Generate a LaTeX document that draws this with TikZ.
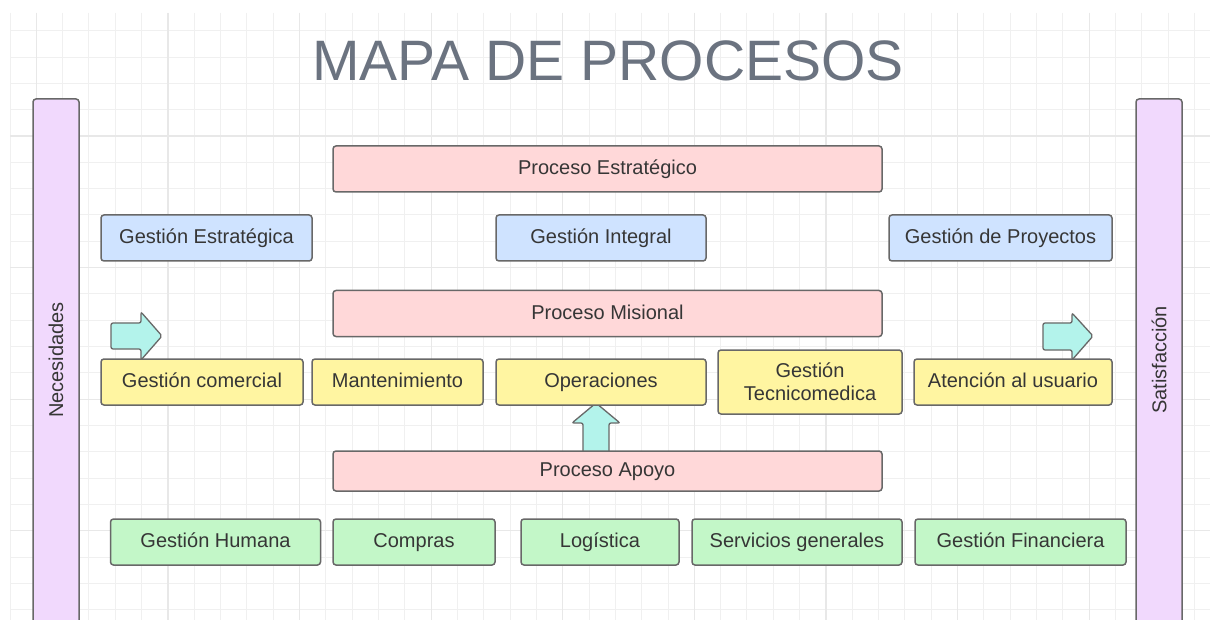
\documentclass[tikz,border=0pt]{standalone}
\usepackage{fontspec}
\setmainfont{Liberation Sans}
\definecolor{borde}{HTML}{686868}
\definecolor{texto}{HTML}{363636}
\definecolor{titulo}{HTML}{6B7380}
\definecolor{rosa}{HTML}{FFD8D9}
\definecolor{azul}{HTML}{CFE3FF}
\definecolor{amarillo}{HTML}{FFF5A1}
\definecolor{verde}{HTML}{C3F7C8}
\definecolor{lila}{HTML}{F1D9FD}
\definecolor{turquesa}{HTML}{B3F3EB}
\definecolor{rejillafina}{HTML}{F0F0F0}
\definecolor{rejillagruesa}{HTML}{E8E8E8}

\begin{document}
\begin{tikzpicture}[x=1pt,y=-1pt,
		caja/.style={draw=borde, line width=1.5pt, rounded corners=3pt, text=texto,
			font=\fontsize{20}{23}\selectfont, align=center, inner sep=0pt, minimum height=46,
			text height=16, text depth=4.5},
		proceso/.style={caja, fill=rosa, minimum width=549},
		estrategia/.style={caja, fill=azul},
		mision/.style={caja, fill=amarillo},
		apoyo/.style={caja, fill=verde},
		barra/.style={draw=borde, line width=1.5pt, rounded corners=3pt, fill=lila,
			minimum width=46, minimum height=531, inner sep=0pt},
		flecha/.style={draw=borde, line width=1.3pt, rounded corners=2pt, fill=turquesa}]
		\useasboundingbox (0,0) rectangle (1210,620);
		\fill[white] (0,0) rectangle (1210,620);
		% cuadricula
		\foreach \i in {0,...,45}
		\draw[rejillafina, line width=1pt] ({10+26.32*\i},13) -- ({10+26.32*\i},620);
		\foreach \j in {0,...,22}
		\draw[rejillafina, line width=1pt] (10,{30.7+26.32*\j}) -- (1210,{30.7+26.32*\j});
		\foreach \i in {1,6,...,41}
		\draw[rejillagruesa, line width=1.2pt] ({10+26.32*\i},13) -- ({10+26.32*\i},620);
		\foreach \j in {4,9,...,19}
		\draw[rejillagruesa, line width=1.2pt] (10,{30.7+26.32*\j}) -- (1210,{30.7+26.32*\j});

		\node (titulo) [text=titulo, font=\fontsize{57}{60}\selectfont, anchor=base] at (608,81) {MAPA DE PROCESOS};

		% barras laterales
		\node (necesidades) [barra] at (56,364.5) {};
		\node [rotate=90, text=texto, font=\fontsize{20}{23}\selectfont] at (necesidades.center|-0,360) {Necesidades};
		\node (satisfaccion) [barra] at (1159,364.5) {};
		\node [rotate=90, text=texto, font=\fontsize{20}{23}\selectfont] at (satisfaccion.center|-0,360) {Satisfacción};

		% flechas
		\draw[flecha] (111,323) -- (141,323) -- (141,312) -- (162,336) -- (141,360) -- (141,349) -- (111,349) -- cycle;
		\draw[flecha] (1043,323) -- (1072,323) -- (1072,313) -- (1093,336) -- (1072,360) -- (1072,350) -- (1043,350) -- cycle;
		\draw[flecha] (583,453) -- (583,423) -- (572,423) -- (596,403) -- (620,423) -- (609,423) -- (609,453) -- cycle;

		% procesos
		\node (estrategico) [proceso] at (607.5,169) {Proceso Estratégico};
		\node (misional) [proceso] at (607.5,313.5) {Proceso Misional};
		\node (apoyo) [proceso, minimum height=40] at (607.5,471) {Proceso Apoyo};

		\node (gestEstrategica) [estrategia, minimum width=211] at (206.5,238) {Gestión Estratégica};
		\node (gestIntegral) [estrategia, minimum width=210] at (601,238) {Gestión Integral};
		\node (gestProyectos) [estrategia, minimum width=223] at (1000.5,238) {Gestión de Proyectos};

		\node (comercial) [mision, minimum width=202] at (202,382) {Gestión comercial};
		\node (mantenimiento) [mision, minimum width=171] at (397.5,382) {Mantenimiento};
		\node (operaciones) [mision, minimum width=210] at (601,382) {Operaciones};
		\node (tecnicomedica) [mision, minimum width=184, minimum height=64, text height=, text depth=] at (810,382) {Gestión\\Tecnicomedica};
		\node (usuario) [mision, minimum width=198] at (1013,382) {Atención al usuario};

		\node (humana) [apoyo, minimum width=210] at (215.5,542) {Gestión Humana};
		\node (compras) [apoyo, minimum width=162] at (414,542) {Compras};
		\node (logistica) [apoyo, minimum width=158] at (600,542) {Logística};
		\node (servicios) [apoyo, minimum width=210] at (797,542) {Servicios generales};
		\node (financiera) [apoyo, minimum width=211] at (1020.5,542) {Gestión Financiera};
	\end{tikzpicture}
\end{document}
